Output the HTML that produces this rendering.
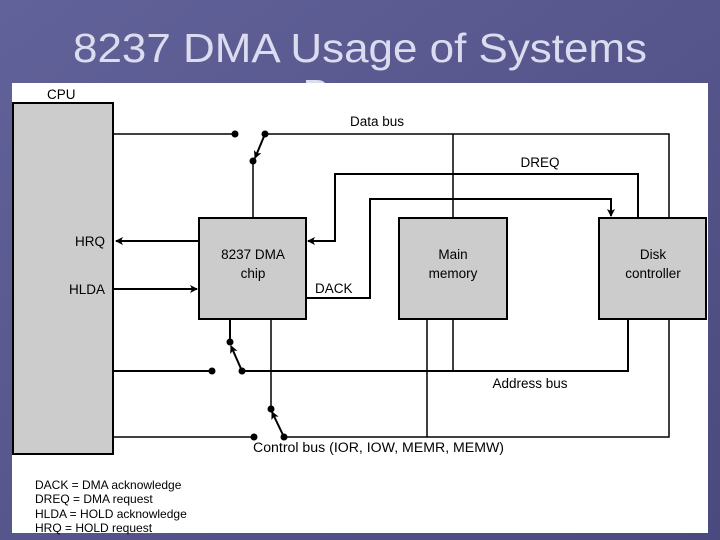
<!DOCTYPE html>
<html><head><style>
html,body{margin:0;padding:0;width:720px;height:540px;overflow:hidden;background:#585890;}
svg{display:block}
text{font-family:"Liberation Sans",Arial,sans-serif;}
</style></head><body>
<svg width="720" height="540" viewBox="0 0 720 540" xmlns="http://www.w3.org/2000/svg">
<defs>
<linearGradient id="bg" x1="0" y1="0" x2="1" y2="1">
<stop offset="0" stop-color="#62629a"/><stop offset="1" stop-color="#4a4a7e"/>
</linearGradient>
<marker id="ah" markerWidth="8" markerHeight="8" refX="7" refY="4" orient="auto" markerUnits="userSpaceOnUse">
<path d="M0,0 L8,4 L0,8 L2,4 Z" fill="#000"/>
</marker>
</defs>
<rect width="720" height="540" fill="url(#bg)"/>
<text x="360" y="62" font-size="41" fill="#dcdcf0" text-anchor="middle" textLength="574" lengthAdjust="spacingAndGlyphs">8237 DMA Usage of Systems</text>
<text x="338" y="108" font-size="41" fill="#dcdcf0" text-anchor="middle">Bus</text>
<rect x="12" y="83" width="696" height="450" fill="#fff"/>

<g stroke="#000" stroke-width="2" fill="#ccc">
<rect x="13" y="103" width="100" height="351"/>
<rect x="199" y="218" width="107" height="101"/>
<rect x="399" y="218" width="108" height="101"/>
<rect x="599" y="218" width="107" height="101"/>
</g>

<g fill="#000" font-size="13.5">
<text x="47" y="99">CPU</text>
<text x="350" y="126">Data bus</text>
<text x="540" y="167" text-anchor="middle">DREQ</text>
<text x="105" y="246" text-anchor="end">HRQ</text>
<text x="105" y="294" text-anchor="end">HLDA</text>
<text x="315" y="293">DACK</text>
<text x="530" y="388" text-anchor="middle">Address bus</text>
<text x="253" y="452" textLength="251" lengthAdjust="spacingAndGlyphs">Control bus (IOR, IOW, MEMR, MEMW)</text>
</g>
<g font-size="13.5" fill="#000" text-anchor="middle">
<text x="253" y="259">8237 DMA</text><text x="253" y="278">chip</text>
<text x="453" y="259">Main</text><text x="453" y="278">memory</text>
<text x="653" y="259">Disk</text><text x="653" y="278">controller</text>
</g>

<g stroke="#000" stroke-width="1.5" fill="none">
<line x1="113" y1="134" x2="235" y2="134"/>
<polyline points="265,134 669,134 669,218"/>
<line x1="453" y1="134" x2="453" y2="218"/>
<line x1="253" y1="161" x2="253" y2="218"/>
<polyline points="638,218 638,174 335,174 335,241 308,241" stroke-width="2" marker-end="url(#ah)"/>
<polyline points="306,298 370,298 370,199 611,199 611,216" stroke-width="2" marker-end="url(#ah)"/>
<line x1="199" y1="241" x2="116" y2="241" stroke-width="2" marker-end="url(#ah)"/>
<line x1="113" y1="289" x2="197" y2="289" stroke-width="2" marker-end="url(#ah)"/>
<line x1="230" y1="319" x2="230" y2="342" stroke-width="2"/>
<line x1="113" y1="371" x2="212" y2="371" stroke-width="2"/>
<polyline points="242,371 628,371 628,319" stroke-width="2"/>
<line x1="453" y1="319" x2="453" y2="371"/>
<line x1="271" y1="319" x2="271" y2="409"/>
<line x1="113" y1="437" x2="254" y2="437"/>
<polyline points="284,437 669,437 669,319"/>
<line x1="427" y1="319" x2="427" y2="437"/>
<line x1="265" y1="134" x2="255" y2="158" stroke-width="2" marker-end="url(#ah)"/>
<line x1="242" y1="371" x2="231" y2="346" stroke-width="2" marker-end="url(#ah)"/>
<line x1="284" y1="437" x2="272" y2="412" stroke-width="2" marker-end="url(#ah)"/>
</g>
<g fill="#000">
<circle cx="235" cy="134" r="3.5"/><circle cx="265" cy="134" r="3.5"/><circle cx="253" cy="161" r="3.5"/>
<circle cx="230" cy="342" r="3.5"/><circle cx="212" cy="371" r="3.5"/><circle cx="242" cy="371" r="3.5"/>
<circle cx="271" cy="409" r="3.5"/><circle cx="254" cy="437" r="3.5"/><circle cx="284" cy="437" r="3.5"/>
</g>

<g font-size="12" fill="#000">
<text x="35" y="489">DACK = DMA acknowledge</text>
<text x="35" y="503">DREQ = DMA request</text>
<text x="35" y="518">HLDA = HOLD acknowledge</text>
<text x="35" y="532">HRQ = HOLD request</text>
</g>
</svg>
</body></html>
